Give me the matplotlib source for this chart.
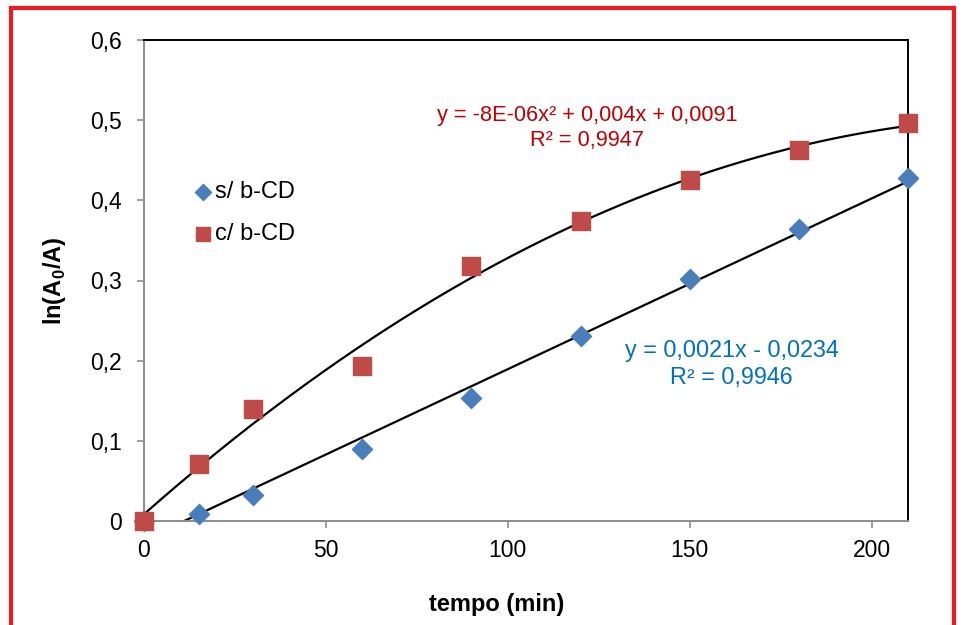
import matplotlib.pyplot as plt
import numpy as np
from matplotlib.lines import Line2D

plt.rcParams['font.family'] = ['Liberation Sans', 'DejaVu Sans']

# data
tempo = [0, 15, 30, 60, 90, 120, 150, 180, 210]
sem_cd = [0, 0.009, 0.032, 0.090, 0.153, 0.231, 0.302, 0.364, 0.428]
com_cd = [0, 0.071, 0.140, 0.193, 0.318, 0.374, 0.425, 0.463, 0.496]
xticks = [0, 50, 100, 150, 200]
yticks = [0, 0.1, 0.2, 0.3, 0.4, 0.5, 0.6]
ytick_labels = ['0', '0,1', '0,2', '0,3', '0,4', '0,5', '0,6']

blue = '#4a7ebb'
red = '#be4b48'
gray = '#8c8c8c'

fig = plt.figure(figsize=(9.63, 6.25), dpi=100)
ax = fig.add_axes([0.1495, 0.1664, 0.7935, 0.7696])

x = np.array(tempo, dtype=float)
xs = np.linspace(0, 210, 300)

# trendlines (least squares, like Excel)
lin = np.polyfit(x, sem_cd, 1)
quad = np.polyfit(x, com_cd, 2)
ylin = np.polyval(lin, xs)
mask = ylin >= 0
ax.plot(xs[mask], ylin[mask], color='black', lw=1.6, zorder=2)
ax.plot(xs, np.polyval(quad, xs), color='black', lw=1.6, zorder=2)

ax.scatter(tempo, sem_cd, marker='D', s=105, color=blue, zorder=3,
           label='s/ b-CD', clip_on=False)
ax.scatter(tempo, com_cd, marker='s', s=150, color=red, zorder=4,
           label='c/ b-CD', clip_on=False)

ax.set_xlim(0, 210)
ax.set_ylim(0, 0.6)
ax.set_xticks(xticks)
ax.set_yticks(yticks)
ax.set_yticklabels(ytick_labels)
ax.tick_params(labelsize=16.5, direction='out', length=5, width=1.2,
               color=gray, pad=8)
ax.tick_params(axis='y', pad=11)

for side in ['left', 'bottom']:
    ax.spines[side].set_color(gray)
    ax.spines[side].set_linewidth(1.4)
for side in ['top', 'right']:
    ax.spines[side].set_color('black')
    ax.spines[side].set_linewidth(1.4)

ax.set_xlabel('tempo (min)', fontsize=17, fontweight='bold')
ax.xaxis.set_label_coords(0.461, -0.150)
ax.set_ylabel('ln(A$_\\mathregular{0}$/A)', fontsize=17, fontweight='bold',
              labelpad=16)

ax.legend(loc='upper left', bbox_to_anchor=(0.04, 0.727), frameon=False,
          fontsize=17, handletextpad=-0.3, labelspacing=0.85,
          handlelength=1.6, scatterpoints=1, borderaxespad=0,
          markerscale=0.8)

ax.text(121.7, 0.490, 'y = -8E-06x² + 0,004x + 0,0091\nR² = 0,9947',
        color='#c00000', fontsize=15.7, ha='center', va='center',
        linespacing=1.25)
ax.text(161.5, 0.196, 'y = 0,0021x - 0,0234\nR² = 0,9946',
        color='#0070c0', fontsize=16.8, ha='center', va='center',
        linespacing=1.25)

# red frame around the figure (no bottom edge)
bc = '#ed1c24'
for xd, yd in [([0.0114, 0.0114], [-0.1, 0.987]),
               ([0.0114, 0.9907], [0.987, 0.987]),
               ([0.9907, 0.9907], [-0.1, 0.987])]:
    fig.add_artist(Line2D(xd, yd, color=bc, lw=3, transform=fig.transFigure))

fig.savefig('out.png', dpi=100)
